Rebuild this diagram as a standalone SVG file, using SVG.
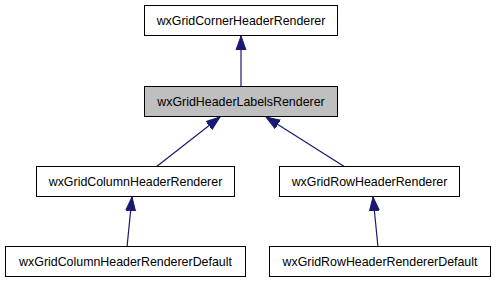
<svg xmlns="http://www.w3.org/2000/svg" width="496" height="283" viewBox="0 0 496 283">
  <style>
    .box { fill: #ffffff; stroke: #000000; stroke-width: 1; }
    .box.hl { fill: #bfbfbf; }
    .lbl { font-family: "Liberation Sans", Arial, sans-serif; font-size: 12.4px; fill: #000000; text-anchor: middle; }
    .edge { stroke: #191970; stroke-width: 1.2; fill: none; marker-end: url(#arr); }
  </style>
  <defs>
    <marker id="arr" markerUnits="userSpaceOnUse" markerWidth="15" markerHeight="12" refX="14" refY="5" orient="auto" viewBox="0 0 15 10">
      <path d="M0,0 L14,5 L0,10 z" fill="#191970" stroke="#191970"/>
    </marker>
  </defs>
  <rect width="496" height="283" fill="#ffffff"/>

  <g id="edges">
    <line class="edge" x1="241" y1="86" x2="241" y2="36"/>
    <line class="edge" x1="156" y1="167" x2="220" y2="117"/>
    <line class="edge" x1="345" y1="167" x2="266" y2="117"/>
    <line class="edge" x1="127" y1="247" x2="132" y2="197"/>
    <line class="edge" x1="378" y1="247" x2="373" y2="197"/>
  </g>

  <g id="wxGridCornerHeaderRenderer">
    <rect class="box" x="144.5" y="5.5" width="193" height="30"/>
    <text class="lbl" x="241" y="25">wxGridCornerHeaderRenderer</text>
  </g>
  <g id="wxGridHeaderLabelsRenderer">
    <rect class="box hl" x="144.5" y="86.5" width="193" height="30"/>
    <text class="lbl" x="241" y="106">wxGridHeaderLabelsRenderer</text>
  </g>
  <g id="wxGridColumnHeaderRenderer">
    <rect class="box" x="36.5" y="166.5" width="198" height="30"/>
    <text class="lbl" x="135.5" y="186">wxGridColumnHeaderRenderer</text>
  </g>
  <g id="wxGridRowHeaderRenderer">
    <rect class="box" x="279.5" y="166.5" width="180" height="30"/>
    <text class="lbl" x="369.5" y="186">wxGridRowHeaderRenderer</text>
  </g>
  <g id="wxGridColumnHeaderRendererDefault">
    <rect class="box" x="5.5" y="246.5" width="240" height="30"/>
    <text class="lbl" x="125.5" y="266">wxGridColumnHeaderRendererDefault</text>
  </g>
  <g id="wxGridRowHeaderRendererDefault">
    <rect class="box" x="269.5" y="246.5" width="221" height="30"/>
    <text class="lbl" x="380" y="266">wxGridRowHeaderRendererDefault</text>
  </g>
</svg>
